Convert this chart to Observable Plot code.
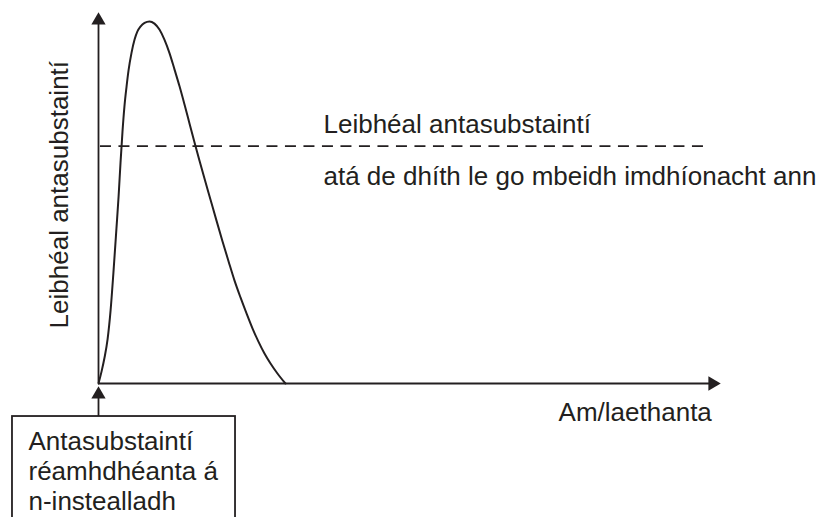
<!DOCTYPE html>
<html>
<head>
<meta charset="utf-8">
<script src="https://cdn.jsdelivr.net/npm/d3@7"></script>
<script src="https://cdn.jsdelivr.net/npm/@observablehq/plot@0.6"></script>
<style>
  html, body { margin: 0; padding: 0; background: #fff; }
</style>
</head>
<body>
<div id="chart"></div>
<script>
// Time in days since the pre-made antibodies were injected
const days = [0, 0.17, 0.34, 0.51, 0.68, 0.84, 1.01, 1.13, 1.24, 1.35, 1.46, 1.58, 1.69, 1.86, 2.03, 2.19, 2.36, 2.59, 2.87,
              3.15, 3.43, 3.71, 4.0, 4.28, 4.56, 4.84, 5.12, 5.4, 5.68, 5.96, 6.3, 6.64, 6.98, 7.32, 7.65, 7.99, 8.33, 8.67, 9.0, 9.34, 9.68, 10.07, 10.52];
// Antibody level (relative units)
const levels = [0, 3.2, 7.0, 11.9, 19.7, 29.9, 41.8, 50.4, 59.6, 67.9, 74.7, 80.1, 84.4, 89.2, 92.7, 94.9, 96.2, 97.2, 97.6,
                97.0, 95.4, 92.7, 89.0, 84.6, 80.1, 75.2, 70.1, 65.0, 60.1, 55.3, 49.6, 43.9, 38.3, 32.9, 27.8, 23.2, 18.9, 14.8, 11.3, 8.1, 5.4, 2.7, 0];
// Level needed for immunity
const immunityLevel = [64];
// Axis extents
const xExtent = [0, 35];
const yExtent = [0, 100];
// Texts
const yLabel = "Leibhéal antasubstaintí";
const xLabel = "Am/laethanta";
const thresholdLabel = ["Leibhéal antasubstaintí", "atá de dhíth le go mbeidh imdhíonacht ann"];
const boxLabel = "Antasubstaintí\nréamhdhéanta á\nn-instealladh";

const curve = days.map((d, i) => ({day: d, level: levels[i]}));
const ink = "#231f20";
const font = "'Liberation Sans', Arial, Helvetica, sans-serif";

const chart = Plot.plot({
  width: 827,
  height: 517,
  marginLeft: 98,
  marginRight: 107,
  marginTop: 12,
  marginBottom: 134,
  style: {fontFamily: font, background: "#fff"},
  x: {domain: xExtent, axis: null},
  y: {domain: yExtent, axis: null},
  marks: [
    // axes
    Plot.ruleX([xExtent[0]], {y1: yExtent[0], y2: yExtent[1] - 2.5, stroke: ink, strokeWidth: 1.8}),
    Plot.ruleY([yExtent[0]], {x1: xExtent[0], x2: xExtent[1] - 0.5, stroke: ink, strokeWidth: 1.8}),
    Plot.dot([{x: xExtent[0], y: yExtent[1]}], {x: "x", y: "y", dy: 8, symbol: "triangle", r: 5.3, fill: ink, stroke: "none"}),
    Plot.dot([{x: xExtent[1], y: yExtent[0]}], {x: "x", y: "y", dx: -8, symbol: "triangle", rotate: 90, r: 5.3, fill: ink, stroke: "none"}),
    // threshold
    Plot.ruleY(immunityLevel, {x1: 0.11, x2: 34.27, stroke: ink, strokeWidth: 1.7, strokeDasharray: "11,7.5"}),
    // antibody curve
    Plot.line(curve, {x: "day", y: "level", curve: "monotone-x", stroke: ink, strokeWidth: 2}),
    // labels
    Plot.text([yLabel], {x: -1.69, y: 50.9, text: d => d, rotate: -90, textAnchor: "middle", lineAnchor: "bottom", fontSize: 26, fill: ink}),
    Plot.text([xLabel], {x: 25.89, y: -10.24, text: d => d, textAnchor: "start", lineAnchor: "bottom", fontSize: 26, fill: ink}),
    Plot.text([thresholdLabel[0]], {x: 12.66, y: 67.65, text: d => d, textAnchor: "start", lineAnchor: "bottom", fontSize: 26, fill: ink}),
    Plot.text([thresholdLabel[1]], {x: 12.66, y: 53.6, text: d => d, textAnchor: "start", lineAnchor: "bottom", fontSize: 26, fill: ink}),
    // injection box and arrow
    Plot.ruleX([xExtent[0]], {y1: -8.9, y2: -3.5, stroke: ink, strokeWidth: 1.8}),
    Plot.dot([{x: xExtent[0], y: yExtent[0]}], {x: "x", y: "y", dy: 11, symbol: "triangle", r: 5.3, fill: ink, stroke: "none"}),
    Plot.rect([{x1: -4.84, x2: 7.71, y1: -8.9, y2: -45}], {x1: "x1", x2: "x2", y1: "y1", y2: "y2", fill: "none", stroke: ink, strokeWidth: 1.8}),
    Plot.text([boxLabel], {x: -3.94, y: -12.0, text: d => d, textAnchor: "start", lineAnchor: "top", lineHeight: 1.17, fontSize: 26, fill: ink})
  ]
});
document.getElementById("chart").appendChild(chart);
</script>
</body>
</html>
